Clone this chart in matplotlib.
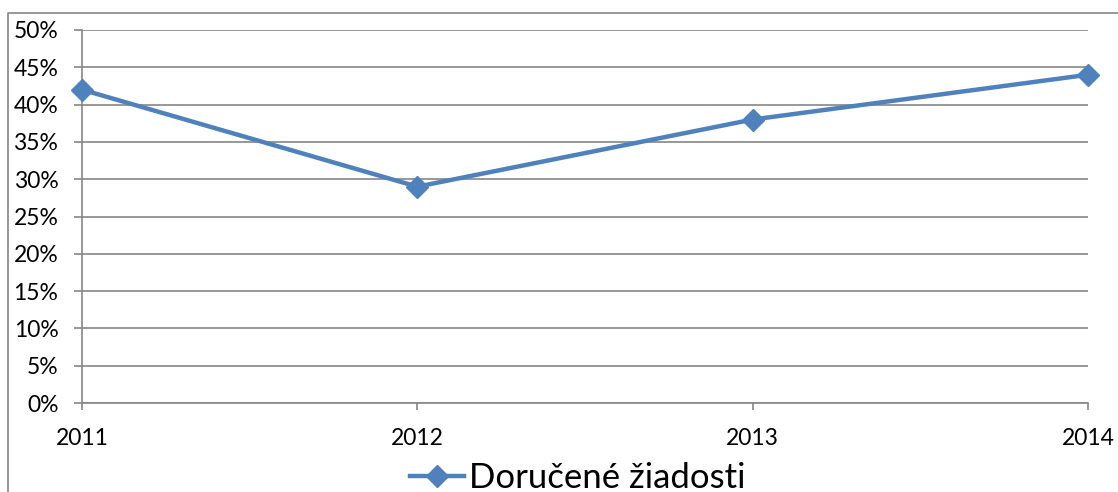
import matplotlib.pyplot as plt
from matplotlib.lines import Line2D
from matplotlib.ticker import PercentFormatter

years = [2011, 2012, 2013, 2014]
values = [42, 29, 38, 44]
series_name = 'Doručené žiadosti'
yticks = list(range(0, 55, 5))

blue = '#4F81BD'
grid_col = '#868686'

plt.rcParams['font.family'] = ['Lato', 'DejaVu Sans']

fig = plt.figure(figsize=(11.18, 4.92), dpi=100)
ax = fig.add_axes([82/1118, 89/492, 1006/1118, 373/492])

ax.plot(years, values, color=blue, lw=3.2, marker='D', markersize=11,
        clip_on=False, zorder=5, label=series_name)

ax.set_xlim(2011, 2014)
ax.set_ylim(0, 50)
ax.set_xticks(years)
ax.set_xticklabels([str(y) for y in years])
ax.set_yticks(yticks)
ax.yaxis.set_major_formatter(PercentFormatter(decimals=0))
ax.grid(axis='y', color=grid_col, lw=1.2)
ax.set_axisbelow(True)

for s in ['top', 'right']:
    ax.spines[s].set_visible(False)
for s in ['left', 'bottom']:
    ax.spines[s].set_color(grid_col)
    ax.spines[s].set_linewidth(1.2)

ax.tick_params(axis='y', length=6, width=1.2, color=grid_col, pad=11, labelsize=16.5)
ax.tick_params(axis='x', length=5, width=1.2, color=grid_col, pad=13, labelsize=16.5)

# outer chart frame (cropped)
fig.add_artist(Line2D([8/1118, 8/1118, 1.0], [0.0, 1 - 13/492, 1 - 13/492],
                      transform=fig.transFigure, color='#868686', lw=1.2))

fig.legend(loc='center', bbox_to_anchor=(578/1118, 1 - 478/492), frameon=False,
           fontsize=25, handlelength=1.55, handletextpad=0.15)

fig.savefig('out.png', dpi=100)
